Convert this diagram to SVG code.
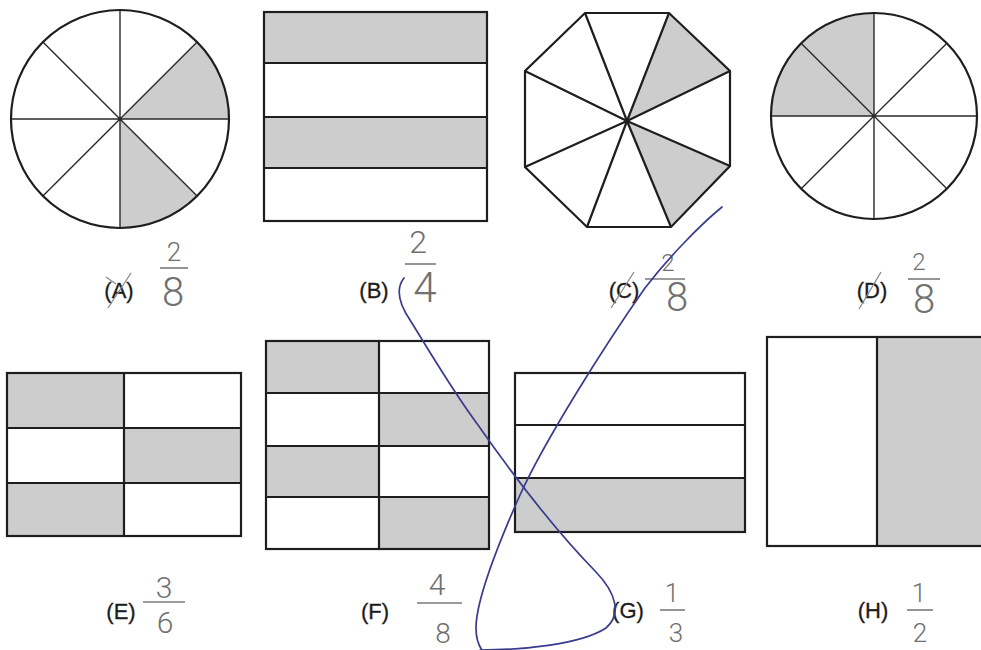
<svg xmlns="http://www.w3.org/2000/svg" width="981" height="650" viewBox="0 0 981 650">
<style>
.o{fill:none;stroke:#1e1e1e;stroke-width:2.2}
.i{fill:none;stroke:#2a2a2a;stroke-width:1.4}
.s{fill:#cdcdcd;stroke:none}
.lb{font-family:"Liberation Sans",Arial,sans-serif;font-size:22px;fill:#1c1c1c;text-anchor:middle;stroke:#1c1c1c;stroke-width:0.3}
.hw{font-family:Roboto,"Liberation Sans",sans-serif;font-weight:300;fill:#707070;text-anchor:middle}
.bar{stroke:#7a7a7a;stroke-width:1.6;fill:none}
.x{stroke:#8a8a8a;stroke-width:1.3;fill:none}
.pen{fill:none;stroke:#3b3b8e;stroke-width:1.7;stroke-linecap:round}
</style>
<rect width="981" height="650" fill="#ffffff"/>

<g id="A">
<path class="s" d="M120 119 L197.1 41.9 A109 109 0 0 1 229 119 Z"/>
<path class="s" d="M120 119 L197.1 196.1 A109 109 0 0 1 120 228 Z"/>
<path class="i" d="M120 10 V228 M11 119 H229 M42.9 41.9 L197.1 196.1 M197.1 41.9 L42.9 196.1"/>
<circle class="o" cx="120" cy="119" r="109"/>
<text class="lb" x="119" y="298">(A)</text>
<path class="x" d="M108 308 L131 273 M106 277 L116 284"/>
<text class="hw" x="174" y="261" font-size="26">2</text>
<line class="bar" x1="160" y1="268" x2="188" y2="268"/>
<text class="hw" x="173" y="306" font-size="40">8</text>
</g>

<g id="B">
<rect class="s" x="264" y="12" width="223" height="51"/>
<rect class="s" x="264" y="117" width="223" height="51"/>
<path class="o" d="M264 63 H487 M264 117 H487 M264 168 H487"/>
<rect class="o" x="264" y="12" width="223" height="209"/>
<text class="lb" x="374" y="298">(B)</text>
<text class="hw" x="418" y="253" font-size="32">2</text>
<line class="bar" x1="405" y1="264" x2="436" y2="264"/>
<text class="hw" x="425" y="302" font-size="42">4</text>
</g>

<g id="C">
<path class="s" d="M627 121 L669 13 L730 71 Z"/>
<path class="s" d="M627 121 L730 166 L671 227 Z"/>
<path class="o" d="M627 121 L585 13 M627 121 L669 13 M627 121 L730 71 M627 121 L730 166 M627 121 L671 227 M627 121 L587 227 M627 121 L525 167 M627 121 L525 71"/>
<polygon class="o" points="585,13 669,13 730,71 730,166 671,227 587,227 525,167 525,71"/>
<text class="lb" x="624" y="298">(C)</text>
<path class="x" d="M611 308 L634 272"/>
<text class="hw" x="668" y="271" font-size="24">2</text>
<line class="bar" x1="645" y1="279" x2="685" y2="279"/>
<text class="hw" x="677" y="311" font-size="40">8</text>
</g>

<g id="D">
<path class="s" d="M874 116 L771 116 A103 103 0 0 1 874 13 Z"/>
<path class="i" d="M874 13 V219 M771 116 H977 M801.2 43.2 L946.8 188.8 M946.8 43.2 L801.2 188.8"/>
<circle class="o" cx="874" cy="116" r="103"/>
<text class="lb" x="872" y="298">(D)</text>
<path class="x" d="M859 309 L881 272"/>
<text class="hw" x="919" y="270" font-size="24">2</text>
<line class="bar" x1="908" y1="279" x2="940" y2="279"/>
<text class="hw" x="924" y="313" font-size="40">8</text>
</g>

<g id="E">
<rect class="s" x="7" y="373" width="117" height="55"/>
<rect class="s" x="124" y="428" width="117" height="55"/>
<rect class="s" x="7" y="483" width="117" height="53"/>
<path class="o" d="M124 373 V536 M7 428 H241 M7 483 H241"/>
<rect class="o" x="7" y="373" width="234" height="163"/>
<text class="lb" x="121" y="619">(E)</text>
<text class="hw" x="164" y="598" font-size="30">3</text>
<line class="bar" x1="143" y1="602" x2="185" y2="602"/>
<text class="hw" x="165" y="633" font-size="30">6</text>
</g>

<g id="F">
<rect class="s" x="266" y="341" width="113" height="52"/>
<rect class="s" x="379" y="393" width="110" height="53"/>
<rect class="s" x="266" y="446" width="113" height="51"/>
<rect class="s" x="379" y="497" width="110" height="52"/>
<path class="o" d="M379 341 V549 M266 393 H489 M266 446 H489 M266 497 H489"/>
<rect class="o" x="266" y="341" width="223" height="208"/>
<text class="lb" x="375" y="619">(F)</text>
<text class="hw" x="437" y="595" font-size="30">4</text>
<line class="bar" x1="417" y1="603" x2="462" y2="603"/>
<text class="hw" x="443" y="643" font-size="28">8</text>
</g>

<g id="G">
<rect class="s" x="515" y="478" width="230" height="54"/>
<path class="o" d="M515 425 H745 M515 478 H745"/>
<rect class="o" x="515" y="373" width="230" height="159"/>
<text class="lb" x="628" y="618">(G)</text>
<text class="hw" x="672" y="602" font-size="26">1</text>
<line class="bar" x1="660" y1="610" x2="685" y2="610"/>
<text class="hw" x="676" y="642" font-size="26">3</text>
</g>

<g id="H">
<rect class="s" x="877" y="337" width="110" height="209"/>
<path class="o" d="M877 337 V546"/>
<rect class="o" x="767" y="337" width="220" height="209"/>
<text class="lb" x="873" y="618">(H)</text>
<text class="hw" x="919" y="602" font-size="26">1</text>
<line class="bar" x1="907" y1="610" x2="933" y2="610"/>
<text class="hw" x="920" y="642" font-size="26">2</text>
</g>

<g id="connectors">
<path class="pen" d="M404 278 C396 288 398 302 410 320 C430 352 452 390 478 425 C515 478 555 530 596 572 C616 593 622 614 606 628 C580 645 520 650 480 650"/>
<path class="pen" d="M722 207 C700 225 668 258 645 288 C605 345 545 440 520 495 C500 540 476 600 476 628 C476 640 479 646 482 650"/>
</g>
</svg>
